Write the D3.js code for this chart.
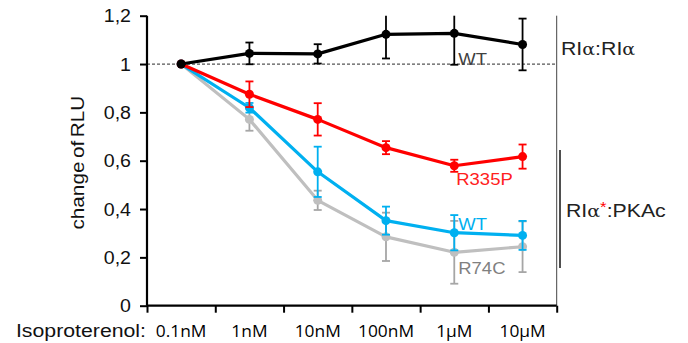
<!DOCTYPE html>
<html>
<head>
<meta charset="utf-8">
<script src="https://cdn.jsdelivr.net/npm/d3@7"></script>
<style>
  body { margin: 0; background: #fff; }
  text { font-family: "Liberation Sans", Arial, sans-serif; }
  .xlab { font-family: "Open Sans", "Noto Sans", sans-serif; }
</style>
</head>
<body>
<div id="chart"></div>
<script>
// ---- data ----
var doses = ["0.1nM", "1nM", "10nM", "100nM", "1\u00b5M", "10\u00b5M"];
var yTicks = [0, 0.2, 0.4, 0.6, 0.8, 1, 1.2];

var wtHomo = [1.0, 1.044, 1.042, 1.123, 1.127, 1.081];
var wtHomoErr = [0, 0.045, 0.04, 0.1, 0.13, 0.107];

var r335p = [1.0, 0.875, 0.771, 0.654, 0.579, 0.617];
var r335pErr = [0, 0.053, 0.067, 0.027, 0.025, 0.05];

var wtPkac = [1.0, 0.819, 0.554, 0.352, 0.302, 0.291];
var wtPkacErr = [0, 0.02, 0.104, 0.058, 0.073, 0.06];

var r74c = [1.0, 0.771, 0.436, 0.285, 0.221, 0.244];
var r74cErr = [0, 0.047, 0.04, 0.1, 0.13, 0.105];

var W = 688, H = 343;
var plotLeft = 147, plotRight = 556.7, plotTop = 15.7, plotBottom = 305.7;
var SX = 1.12; // source picture is a bit wide

var svg = d3.select("#chart").append("svg").attr("width", W).attr("height", H);

var x = d3.scaleBand().domain(doses).range([plotLeft, plotRight]).padding(0);
var xc = function (d) { return x(d) + x.bandwidth() / 2; };
var xEdge = d3.scaleLinear().domain([0, doses.length]).range([plotLeft, plotRight]);
var y = d3.scaleLinear().domain([0, 1.2]).range([plotBottom, plotTop]);

function label(g, tx, ty, str, size, anchor, fill, cls) {
  var t = g.append("text")
    .attr("transform", "translate(" + tx + "," + ty + ") scale(" + SX + ",1)")
    .attr("font-size", size).attr("text-anchor", anchor || "start")
    .attr("fill", fill || "#000").text(str);
  if (cls) t.attr("class", cls);
  return t;
}

// dashed reference at 1
svg.append("line").attr("x1", plotLeft).attr("x2", plotRight)
  .attr("y1", y(1)).attr("y2", y(1))
  .attr("stroke", "#555").attr("stroke-width", 1.2).attr("stroke-dasharray", "3,2");

// right frame line
svg.append("line").attr("x1", plotRight).attr("x2", plotRight).attr("y1", plotTop).attr("y2", plotBottom)
  .attr("stroke", "#444").attr("stroke-width", 1);

// y axis
var yAxis = svg.append("g").attr("transform", "translate(" + plotLeft + ",0)")
  .call(d3.axisLeft(y).tickValues(yTicks).tickSize(7).tickFormat(""));
yAxis.select(".domain").attr("stroke-width", 2.2).attr("d", "M0," + plotTop + "V" + plotBottom);
yAxis.selectAll(".tick line").attr("stroke-width", 2);
yTicks.forEach(function (v) {
  label(svg, 131, y(v) + 6.5, d3.format("~g")(v).replace(".", ","), 17.5, "end", "#111");
});

// x axis (ticks on band edges)
var xAxis = svg.append("g").attr("transform", "translate(0," + plotBottom + ")")
  .call(d3.axisBottom(xEdge).ticks(doses.length).tickSize(7).tickFormat(""));
xAxis.select(".domain").attr("stroke-width", 2.2).attr("d", "M" + plotLeft + ",0H" + plotRight);
xAxis.selectAll(".tick line").attr("stroke-width", 2);
doses.forEach(function (d) {
  label(svg, xc(d), 337, d, 15.5, "middle", "#000", "xlab");
});
label(svg, 146, 337, "Isoproterenol:", 19, "end", "#111");

// y title
svg.append("text")
  .attr("transform", "translate(84," + ((plotTop + plotBottom) / 2 + 2) + ") rotate(-90) scale(" + SX + ",1)")
  .attr("text-anchor", "middle").attr("font-size", 18.5).attr("word-spacing", -2).attr("fill", "#111")
  .text("change of RLU");

// series
var series = [
  { vals: r74c, err: r74cErr, color: "#bfbfbf", errColor: "#a6a6a6" },
  { vals: wtPkac, err: wtPkacErr, color: "#00b0f0", errColor: "#00b0f0" },
  { vals: r335p, err: r335pErr, color: "#ff0000", errColor: "#ff0000" },
  { vals: wtHomo, err: wtHomoErr, color: "#000000", errColor: "#000000" }
];

var clip = function (v) { return Math.max(0, Math.min(1.2, v)); };
var line = d3.line().x(function (d, i) { return xc(doses[i]); }).y(function (d) { return y(d); });

series.forEach(function (s) {
  var g = svg.append("g");
  // error bars
  doses.forEach(function (d, i) {
    if (!s.err[i]) return;
    var cx = xc(d);
    var hi = s.vals[i] + s.err[i], lo = s.vals[i] - s.err[i];
    g.append("line").attr("x1", cx).attr("x2", cx)
      .attr("y1", y(clip(hi))).attr("y2", y(clip(lo)))
      .attr("stroke", s.errColor).attr("stroke-width", 1.8);
    [hi, lo].forEach(function (v) {
      if (v > 1.2) return;
      g.append("line").attr("x1", cx - 4).attr("x2", cx + 4)
        .attr("y1", y(v)).attr("y2", y(v))
        .attr("stroke", s.errColor).attr("stroke-width", 1.8);
    });
  });
  g.append("path").datum(s.vals).attr("d", line)
    .attr("fill", "none").attr("stroke", s.color).attr("stroke-width", 3.2)
    .attr("stroke-linejoin", "round");
  g.selectAll("circle").data(s.vals).enter().append("circle")
    .attr("cx", function (d, i) { return xc(doses[i]); })
    .attr("cy", function (d) { return y(d); })
    .attr("r", 4.5).attr("fill", s.color);
});

// series labels
var lx = x("1\u00b5M") + x.bandwidth() / 2 + 4;
label(svg, lx, y(1) + 0.5, "WT", 16.5, "start", "#404040");
label(svg, lx - 2, y(r335p[4]) + 19, "R335P", 16.5, "start", "#ff2020");
label(svg, lx, y(wtPkac[4]) - 3, "WT", 16.5, "start", "#00b0f0");
label(svg, lx, y(r74c[4]) + 22, "R74C", 16.5, "start", "#808080");

// right side group labels
var a = label(svg, 561, 55, "", 19, "start", "#222");
a.append("tspan").text("RI");
a.append("tspan").attr("font-family", "DejaVu Serif, serif").attr("font-size", 17).text("\u03b1");
a.append("tspan").text(":RI");
a.append("tspan").attr("font-family", "DejaVu Serif, serif").attr("font-size", 17).text("\u03b1");

svg.append("line").attr("x1", 560).attr("x2", 560).attr("y1", 150).attr("y2", 268)
  .attr("stroke", "#222").attr("stroke-width", 1.6);

var b = label(svg, 566, 217, "", 19, "start", "#222");
b.append("tspan").text("RI");
b.append("tspan").attr("font-family", "DejaVu Serif, serif").attr("font-size", 17).text("\u03b1");
b.append("tspan").attr("fill", "#ff0000").attr("font-size", 15).attr("dy", -5).text("*");
b.append("tspan").attr("dy", 5).text(":PKAc");
</script>
</body>
</html>
